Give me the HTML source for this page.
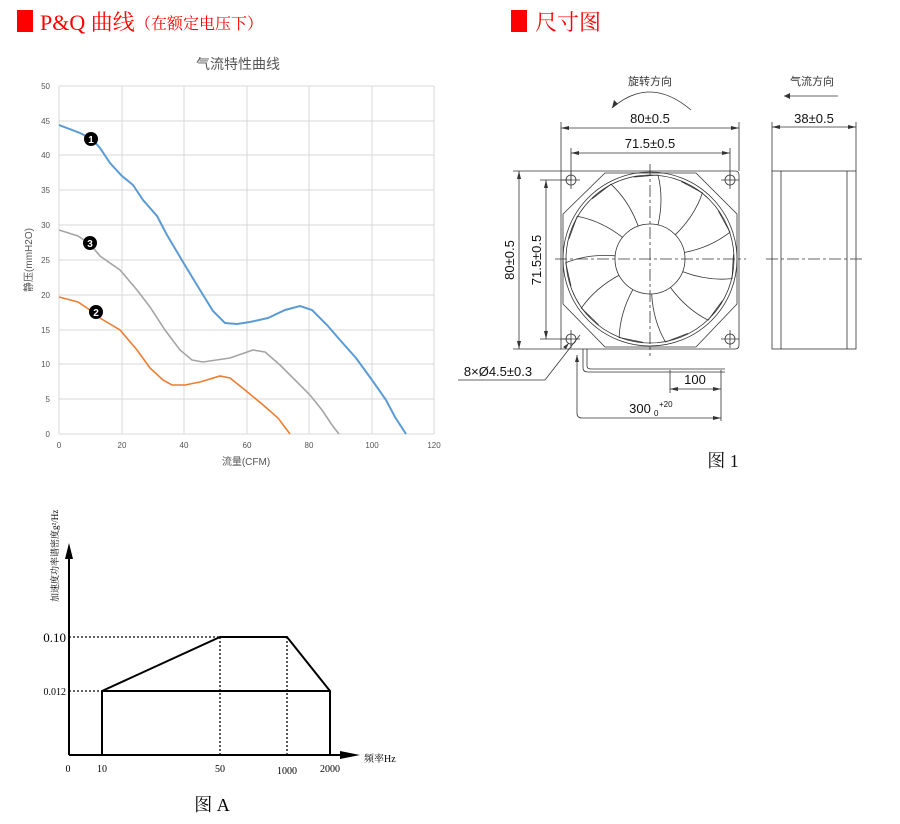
<!DOCTYPE html>
<html><head><meta charset="utf-8"><style>
body{margin:0;background:#fff;width:900px;height:824px;overflow:hidden}
svg{position:absolute;left:0;top:0}
</style></head><body>
<svg width="900" height="824" viewBox="0 0 900 824" xmlns="http://www.w3.org/2000/svg" font-family="Liberation Sans, Noto Sans CJK SC, sans-serif">
<!-- headers -->
<rect x="17" y="10" width="16" height="22" fill="#f00"/>
<text x="40" y="30" font-size="22" fill="#f00" font-family="Liberation Serif, Noto Serif CJK SC, serif">P&amp;Q 曲线</text>
<text x="135" y="29" font-size="16" fill="#f00" font-family="Liberation Serif, Noto Serif CJK SC, serif">（在额定电压下）</text>
<rect x="511" y="10" width="16" height="22" fill="#f00"/>
<text x="535" y="30" font-size="22" fill="#f00" font-family="Liberation Serif, Noto Serif CJK SC, serif">尺寸图</text>

<!-- PQ chart -->
<text x="238" y="69" font-size="14" fill="#555" text-anchor="middle">气流特性曲线</text>
<g stroke="#d9d9d9" stroke-width="1" fill="none">
<line x1="59" y1="86" x2="434" y2="86"/><line x1="59" y1="121" x2="434" y2="121"/><line x1="59" y1="155" x2="434" y2="155"/><line x1="59" y1="190" x2="434" y2="190"/><line x1="59" y1="225" x2="434" y2="225"/><line x1="59" y1="260" x2="434" y2="260"/><line x1="59" y1="295" x2="434" y2="295"/><line x1="59" y1="330" x2="434" y2="330"/><line x1="59" y1="364" x2="434" y2="364"/><line x1="59" y1="399" x2="434" y2="399"/><line x1="59" y1="434" x2="434" y2="434"/>
<line x1="59" y1="86" x2="59" y2="434"/><line x1="122" y1="86" x2="122" y2="434"/><line x1="184" y1="86" x2="184" y2="434"/><line x1="247" y1="86" x2="247" y2="434"/><line x1="309" y1="86" x2="309" y2="434"/><line x1="372" y1="86" x2="372" y2="434"/><line x1="434" y1="86" x2="434" y2="434"/>
</g>
<g font-size="8" fill="#555" text-anchor="end">
<text x="50" y="89">50</text><text x="50" y="124">45</text><text x="50" y="158">40</text><text x="50" y="193">35</text><text x="50" y="228">30</text><text x="50" y="263">25</text><text x="50" y="298">20</text><text x="50" y="333">15</text><text x="50" y="367">10</text><text x="50" y="402">5</text><text x="50" y="437">0</text>
</g>
<g font-size="8" fill="#555" text-anchor="middle">
<text x="59" y="448">0</text><text x="122" y="448">20</text><text x="184" y="448">40</text><text x="247" y="448">60</text><text x="309" y="448">80</text><text x="372" y="448">100</text><text x="434" y="448">120</text>
</g>
<text x="246" y="465" font-size="10" fill="#555" text-anchor="middle">流量(CFM)</text>
<text transform="translate(32,260) rotate(-90)" font-size="10" fill="#555" text-anchor="middle">静压(mmH2O)</text>
<g fill="none" stroke-width="2">
<polyline stroke="#5b9bd5" points="59,125 80,133 92,139 100,148 110,163 122,176 133,185 143,200 157,216 167,235 183,262 200,290 213,311 225,323 237,324 250,322 268,318 285,310 300,306 312,310 327,325 340,340 356,358 372,380 386,400 395,417 406,434"/>
<polyline stroke="#a5a5a5" stroke-width="1.6" points="59,230 78,236 90,244 100,256 120,270 137,290 150,307 165,330 180,350 192,360 203,362 230,358 253,350 265,352 280,365 295,380 310,395 322,410 332,425 339,434"/>
<polyline stroke="#ed7d31" stroke-width="1.6" points="59,297 78,302 90,310 100,318 120,330 137,350 150,368 163,380 172,385 185,385 200,382 220,376 230,378 245,390 262,404 278,418 290,434"/>
</g>
<g font-size="10" font-weight="bold" fill="#fff" text-anchor="middle">
<circle cx="91" cy="139" r="7" fill="#000"/><text x="91" y="143">1</text>
<circle cx="90" cy="243" r="7" fill="#000"/><text x="90" y="247">3</text>
<circle cx="96" cy="312" r="7" fill="#000"/><text x="96" y="316">2</text>
</g>

<!-- dimension drawing -->
<g stroke="#333" stroke-width="0.8" fill="none">
<path d="M612,108 Q650,75 691,110"/>
<line x1="784" y1="96" x2="838" y2="96"/>
<!-- dims -->
<line x1="561" y1="122" x2="561" y2="171"/><line x1="739" y1="122" x2="739" y2="171"/>
<line x1="561" y1="128" x2="739" y2="128"/>
<line x1="571" y1="148" x2="571" y2="180"/><line x1="730" y1="148" x2="730" y2="180"/>
<line x1="571" y1="153" x2="730" y2="153"/>
<line x1="513" y1="171" x2="561" y2="171"/><line x1="513" y1="349" x2="561" y2="349"/>
<line x1="519" y1="171" x2="519" y2="349"/>
<line x1="540" y1="180" x2="571" y2="180"/><line x1="540" y1="339" x2="571" y2="339"/>
<line x1="546" y1="180" x2="546" y2="339"/>
<!-- frame -->
<path d="M561,171 H735 Q739,171 739,175 V345 Q739,349 735,349 H561 Z"/>
<path d="M605,173 H696 L737,214 V304 L696,347 H605 L563,304 V214 Z"/>
<circle cx="650" cy="259" r="87"/>
<circle cx="650" cy="259" r="84"/>
<circle cx="650" cy="259" r="35"/>
<circle cx="571" cy="180" r="5"/><circle cx="730" cy="180" r="5"/><circle cx="571" cy="339" r="5"/><circle cx="730" cy="339" r="5"/>
<line x1="562" y1="180" x2="580" y2="180"/><line x1="571" y1="171" x2="571" y2="189"/>
<line x1="721" y1="180" x2="739" y2="180"/><line x1="730" y1="171" x2="730" y2="189"/>
<line x1="562" y1="339" x2="580" y2="339"/><line x1="571" y1="330" x2="571" y2="348"/>
<line x1="721" y1="339" x2="739" y2="339"/><line x1="730" y1="330" x2="730" y2="348"/>
<g transform="translate(650,259)">
<path id="bl" d="M8,-34 Q14,-60 8,-84 L-16,-82"/>
<use href="#bl" transform="rotate(33)"/><use href="#bl" transform="rotate(66)"/><use href="#bl" transform="rotate(98)"/><use href="#bl" transform="rotate(131)"/><use href="#bl" transform="rotate(164)"/><use href="#bl" transform="rotate(196)"/><use href="#bl" transform="rotate(229)"/><use href="#bl" transform="rotate(262)"/><use href="#bl" transform="rotate(295)"/><use href="#bl" transform="rotate(327)"/>
</g>
<g stroke-dasharray="12,3,3,3">
<line x1="555" y1="259" x2="746" y2="259"/><line x1="650" y1="164" x2="650" y2="356"/>
<line x1="766" y1="259" x2="864" y2="259"/>
</g>
<!-- side -->
<rect x="772" y="171" width="84" height="178"/>
<line x1="781" y1="171" x2="781" y2="349"/><line x1="847" y1="171" x2="847" y2="349"/>
<line x1="772" y1="122" x2="772" y2="171"/><line x1="856" y1="122" x2="856" y2="171"/>
<line x1="772" y1="127" x2="856" y2="127"/>
<!-- cable -->
<path d="M583,349 V368 Q583,372 588,372 H725"/>
<path d="M587,349 V366 Q587,369 591,369 H725"/>
<line x1="670" y1="370" x2="670" y2="393"/><line x1="721" y1="370" x2="721" y2="421"/>
<line x1="670" y1="389" x2="721" y2="389"/>
<path d="M577,355 V413 Q577,418 582,418 H721"/>
<path d="M458,380 H545 L580,335"/>
</g>
<g fill="#333">
<path d="M612,108 l2,-8 l4,4 z"/>
<path d="M784,96 l6,-3 v6 z"/>
<path d="M561,128 l8,-2 v4z"/><path d="M739,128 l-8,-2 v4z"/>
<path d="M571,153 l8,-2 v4z"/><path d="M730,153 l-8,-2 v4z"/>
<path d="M519,171 l-2,8 h4z"/><path d="M519,349 l-2,-8 h4z"/>
<path d="M546,180 l-2,8 h4z"/><path d="M546,339 l-2,-8 h4z"/>
<path d="M772,127 l8,-2 v4z"/><path d="M856,127 l-8,-2 v4z"/>
<path d="M670,389 l8,-2 v4z"/><path d="M721,389 l-8,-2 v4z"/>
<path d="M721,418 l-8,-2 v4z"/><path d="M577,355 l-2,7 h4z"/>
<path d="M569,343 l-6,4 l3,2z"/>
</g>
<g font-size="13" fill="#111" text-anchor="middle">
<text x="650" y="123">80±0.5</text>
<text x="650" y="148">71.5±0.5</text>
<text x="814" y="123">38±0.5</text>
<text transform="translate(514,260) rotate(-90)">80±0.5</text>
<text transform="translate(541,260) rotate(-90)">71.5±0.5</text>
<text x="498" y="376">8×Ø4.5±0.3</text>
<text x="695" y="384">100</text>
<text x="640" y="413">300</text>
</g>
<text x="659" y="407" font-size="8" fill="#111">+20</text>
<text x="654" y="416" font-size="8" fill="#111">0</text>
<text x="650" y="85" font-size="11" fill="#333" text-anchor="middle">旋转方向</text>
<text x="812" y="85" font-size="11" fill="#333" text-anchor="middle">气流方向</text>
<text x="723" y="467" font-size="18" fill="#111" text-anchor="middle" font-family="Liberation Serif, Noto Serif CJK SC, serif">图 1</text>

<!-- vibration chart -->
<g stroke="#000" fill="none">
<line x1="69" y1="555" x2="69" y2="755" stroke-width="2"/>
<line x1="69" y1="755" x2="345" y2="755" stroke-width="2"/>
<polyline stroke-width="2" points="102,755 102,691 220,637 287,637 330,691 330,755"/>
<line x1="102" y1="691" x2="330" y2="691" stroke-width="2"/>
<g stroke-dasharray="2,2" stroke-width="1.3">
<line x1="69" y1="637" x2="220" y2="637"/><line x1="69" y1="691" x2="102" y2="691"/>
<line x1="220" y1="637" x2="220" y2="755"/><line x1="287" y1="637" x2="287" y2="755"/>
</g>
</g>
<path d="M69,543 l-4,16 h8z" fill="#000"/>
<path d="M360,755 l-20,-4 v8z" fill="#000"/>
<g font-family="Liberation Serif, Noto Serif CJK SC, serif" fill="#000">
<text x="66" y="642" font-size="13" text-anchor="end">0.10</text>
<text x="66" y="695" font-size="10" text-anchor="end">0.012</text>
<g font-size="10" text-anchor="middle">
<text x="68" y="772">0</text><text x="102" y="772">10</text><text x="220" y="772">50</text><text x="287" y="774">1000</text><text x="330" y="772">2000</text>
</g>
<text x="364" y="762" font-size="10">频率Hz</text>
<text transform="translate(58,602) rotate(-90)" font-size="9">加速度功率谱密度g²/Hz</text>
<text x="212" y="811" font-size="18" text-anchor="middle">图 A</text>
</g>
</svg>
</body></html>
